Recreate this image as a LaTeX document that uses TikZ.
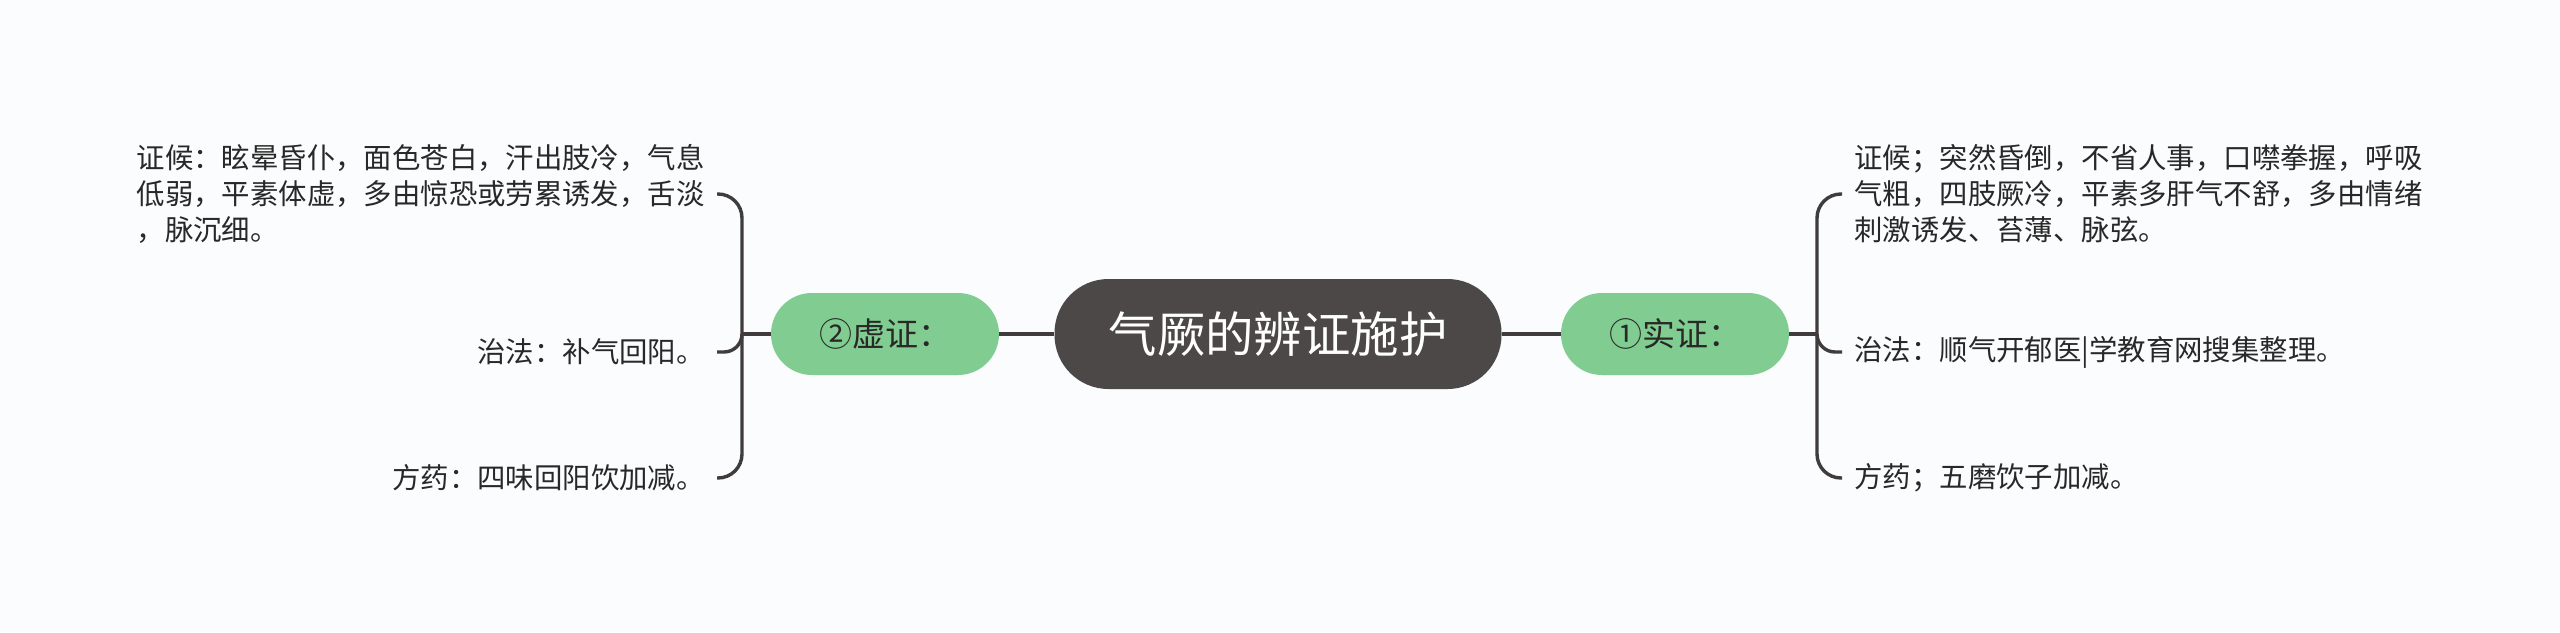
\documentclass[tikz,border=0pt]{standalone}
\usepackage{fontspec}
\setmainfont{Noto Sans CJK SC}
\usepackage{tikz}
\usetikzlibrary{positioning}
\definecolor{bgcol}{RGB}{250,252,253}
\definecolor{rootcol}{RGB}{77,72,72}
\definecolor{greencol}{RGB}{128,204,145}
\definecolor{linecol}{RGB}{64,60,60}
\definecolor{textcol}{RGB}{40,40,40}

\begin{document}
\begin{tikzpicture}[x=0.5pt, y=-0.5pt,
    rootnode/.style={fill=rootcol, text=white, rounded corners=27pt, minimum width=223.5pt, minimum height=55pt, font=\fontsize{24.2pt}{28pt}\selectfont},
    subnode/.style={fill=greencol, text=textcol, rounded corners=20.5pt, minimum width=114pt, minimum height=41pt, font=\fontsize{16.5pt}{20pt}\selectfont},
    leaf/.style={text=textcol, inner sep=6pt, align=left, font=\fontsize{14.2pt}{18pt}\selectfont},
    link/.style={draw=linecol, line width=1.7pt},
    bracelink/.style={link, rounded corners=12pt}]
            \fill[bgcol] (0,0) rectangle (2560,632);
            \useasboundingbox (0,0) rectangle (2560,632);

            \draw (1278,334) node[rootnode]                 (root) {气厥的辨证施护};
            \draw (885,334) node[subnode]                    (xu) {②虚证：};
            \draw (1675,334) node[subnode]                   (shi) {①实证：};
            \coordinate (jl) at (742,334);
            \coordinate (jr) at (1817,334);

            \draw (717,194) node[leaf, anchor=east]          (lt) {证候：眩晕昏仆，面色苍白，汗出肢冷，气息\\低弱，平素体虚，多由惊恐或劳累诱发，舌淡\\，脉沉细。};
            \draw (717,352) node[leaf, anchor=east]          (lm) {治法：补气回阳。};
            \draw (717,478) node[leaf, anchor=east]          (lb) {方药：四味回阳饮加减。};
            \draw (1842,194) node[leaf, anchor=west]         (rt) {证候；突然昏倒，不省人事，口噤拳握，呼吸\\气粗，四肢厥冷，平素多肝气不舒，多由情绪\\刺激诱发、苔薄、脉弦。};
            \draw (1842,352) node[leaf, anchor=west]         (rm) {治法：顺气开郁医|学教育网搜集整理。};
            \draw (1842,478) node[leaf, anchor=west]         (rb) {方药；五磨饮子加减。};

            \draw[link] (root) -- (xu);
            \draw[link] (root) -- (shi);
            \draw[link] (xu) -- (jl);
            \draw[link] (shi) -- (jr);
            \draw[bracelink] (jl) |- (lt.east);
            \draw[bracelink, rounded corners=9pt] (jl) |- (lm.east);
            \draw[bracelink] (jl) |- (lb.east);
            \draw[bracelink] (jr) |- (rt.west);
            \draw[bracelink, rounded corners=9pt] (jr) |- (rm.west);
            \draw[bracelink] (jr) |- (rb.west);

            \end{tikzpicture}
\end{document}
